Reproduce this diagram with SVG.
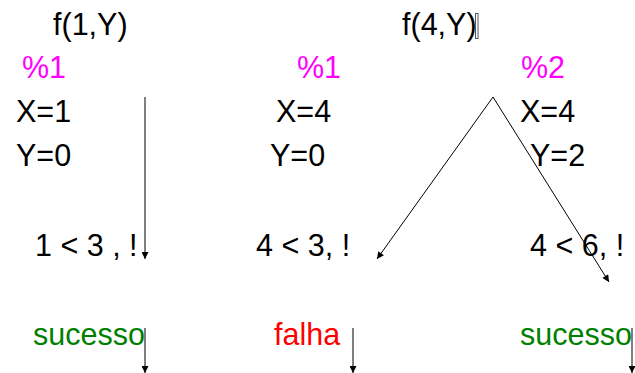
<svg xmlns="http://www.w3.org/2000/svg" width="635" height="373" viewBox="0 0 635 373">
<style>
text{font-family:"Liberation Sans",Arial,sans-serif;font-size:30.5px;fill:#000}
.mag{fill:#FF00FF}
.ok{fill:#008000}
.bad{fill:#FF0000}
.ln{stroke:#000;stroke-width:1;fill:none}
</style>
<defs>
<marker id="ah" viewBox="0 0 10 10" refX="10" refY="5" markerWidth="8" markerHeight="7" markerUnits="userSpaceOnUse" orient="auto">
<path d="M0,0 L10,5 L0,10 z" fill="#000"/>
</marker>
</defs>
<g id="goal1"><text x="53" y="35">f(1,Y)</text></g>
<g id="goal2"><text x="402" y="35">f(4,Y)</text><rect x="475.5" y="13.5" width="2.5" height="25" fill="none" stroke="#555" stroke-width="1"/></g>
<g id="clause1a"><text class="mag" x="22" y="78">%1</text><text x="16" y="122">X=1</text><text x="16" y="166">Y=0</text></g>
<g id="clause1b"><text class="mag" x="297" y="78">%1</text><text x="276" y="122">X=4</text><text x="270" y="166">Y=0</text></g>
<g id="clause2"><text class="mag" x="521" y="78">%2</text><text x="520" y="122">X=4</text><text x="530" y="166">Y=2</text></g>
<g id="body1"><text x="35" y="256">1 &lt; 3 , !</text></g>
<g id="body2"><text x="256" y="256">4 &lt; 3, !</text></g>
<g id="body3"><text x="530" y="256">4 &lt; 6, !</text></g>
<g id="res1"><text class="ok" x="33" y="345">sucesso</text></g>
<g id="res2"><text class="bad" x="274" y="345">falha</text></g>
<g id="res3"><text class="ok" x="520" y="345">sucesso</text></g>
<g id="connectors">
<line class="ln" x1="145" y1="97" x2="145" y2="259" marker-end="url(#ah)"/>
<line class="ln" x1="493" y1="97" x2="377" y2="259" marker-end="url(#ah)"/>
<line class="ln" x1="493" y1="97" x2="609" y2="282" marker-end="url(#ah)"/>
<line class="ln" x1="145" y1="328" x2="145" y2="373" marker-end="url(#ah)"/>
<line class="ln" x1="353" y1="328" x2="353" y2="373" marker-end="url(#ah)"/>
<line class="ln" x1="632" y1="328" x2="632" y2="373" marker-end="url(#ah)"/>
</g>
</svg>
